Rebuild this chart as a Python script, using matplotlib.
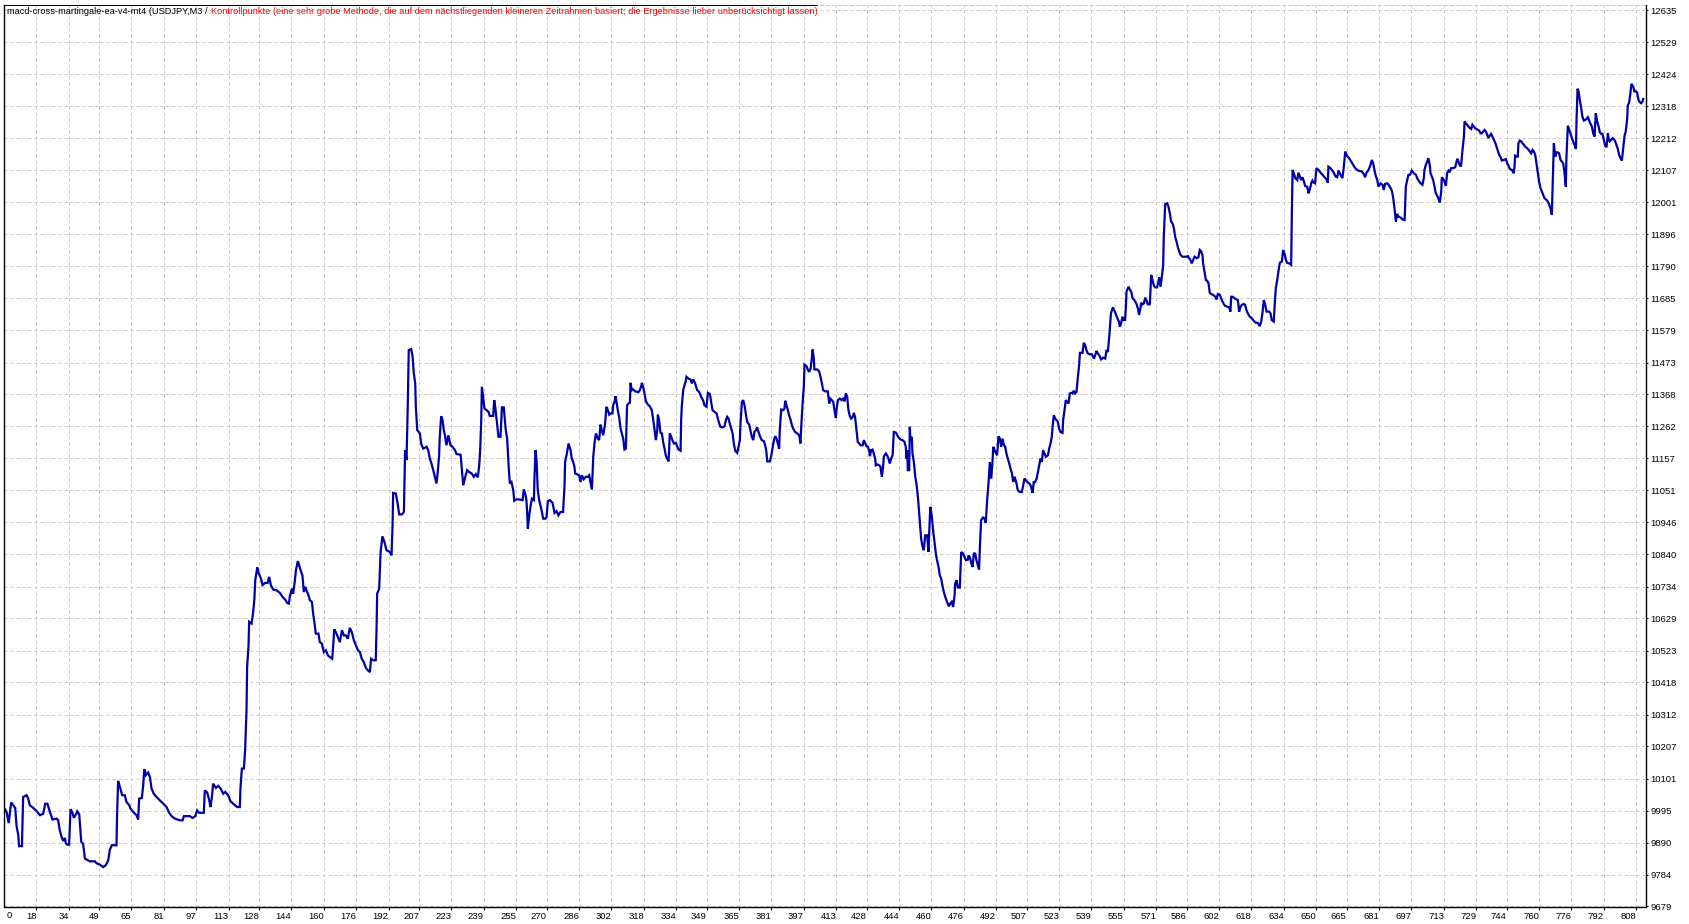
import matplotlib
matplotlib.use('Agg')
import matplotlib.pyplot as plt
import matplotlib.transforms as mtransforms
from matplotlib.lines import Line2D

# balance curve (bar number, balance)
bar_index = [
    2.3, 3.3, 4.4, 4.9, 5.6, 6.6, 7.6, 8.2, 9.1, 9.5, 10.9, 11.2, 11.5, 13.2, 14.0, 14.8,
    16.5, 18.1, 19.8, 21.4, 22.4, 23.5, 24.7, 26.0, 28.0, 28.8, 29.6, 30.6, 31.3, 32.1, 32.6,
    33.2, 34.2, 34.9, 35.9, 36.5, 37.4, 38.2, 39.2, 40.2, 41.1, 42.0, 42.8, 44.4, 46.9, 47.7,
    49.4, 51.0, 52.3, 53.5, 54.3, 55.3, 57.6, 57.9, 58.4, 59.3, 60.4, 61.7, 62.5, 63.9, 64.5,
    65.8, 67.5, 68.3, 68.8, 70.1, 70.8, 71.3, 72.1, 73.2, 74.1, 74.9, 76.0, 77.4, 79.0, 80.7,
    82.3, 83.6, 84.8, 86.4, 88.9, 90.2, 90.9, 93.8, 95.1, 96.5, 97.4, 98.4, 100.7, 101.2,
    102.4, 103.4, 104.0, 104.7, 105.3, 106.7, 107.8, 109.0, 110.3, 111.3, 112.7, 113.9,
    115.2, 117.2, 118.5, 118.8, 119.5, 120.5, 121.1, 121.8, 122.1, 122.8, 123.1, 124.3,
    125.1, 125.7, 126.1, 127.1, 127.7, 128.9, 129.7, 130.9, 132.2, 133.0, 133.8, 135.0,
    136.6, 138.3, 139.6, 140.9, 141.9, 142.7, 143.2,
    144.2, 144.8, 145.5, 146.2, 147.1, 147.8, 148.8, 149.4, 150.1, 150.8, 151.4, 152.4,
    153.1, 154.1, 154.7, 155.4, 156.0, 157.3, 158.0, 159.0, 160.0, 161.0, 162.0, 162.9,
    164.1, 164.6, 165.1, 165.9, 166.9, 167.9, 168.9, 169.9, 170.8, 171.8, 172.8, 173.8,
    174.8, 175.8, 176.8, 177.8, 178.7, 179.7, 180.7, 181.7, 182.7, 183.3, 184.3, 185.6,
    186.0, 186.3, 187.3, 188.0, 188.9, 189.9, 190.9, 192.6, 193.4, 193.9, 194.2, 195.5,
    196.4, 197.2, 198.5, 199.5, 199.8, 200.1, 200.8, 201.4, 201.9, 203.1, 203.8, 204.4,
    205.1, 205.4, 206.1, 207.4, 208.0, 209.0, 210.7, 211.5, 212.3, 213.1, 214.0, 214.8,
    215.6, 216.3, 216.9, 217.2, 217.9, 218.6, 219.2, 219.9, 220.5, 221.5, 222.5, 223.5,
    224.7, 225.5, 227.5, 228.1, 228.8, 229.8, 230.7, 231.7, 233.0, 234.0, 235.0, 236.0,
    236.7, 237.2, 237.7, 238.0, 238.6, 239.3, 240.3, 241.3, 241.9, 243.6, 244.1, 244.7,
    245.6, 246.2, 247.2, 247.9, 248.8, 249.8, 250.5, 251.2, 251.8, 252.6, 253.5, 254.0,
    255.1, 256.8, 258.1, 258.7, 259.4, 260.0, 260.4, 260.7, 261.4, 262.0, 262.7, 263.7,
    264.0, 264.5, 265.0, 265.6, 266.3, 267.3, 268.3, 269.3, 269.9, 270.6, 271.6, 272.9,
    273.9, 274.9, 275.8, 276.8, 278.1, 278.8, 279.1, 279.8, 280.8,
    281.8, 282.4, 283.1, 283.7, 284.1, 285.1, 286.0, 286.7, 287.4, 288.3, 289.3, 290.3,
    291.0, 291.6, 292.3, 292.6, 293.0, 293.6, 294.3, 295.3, 295.9, 296.6, 297.2, 297.9,
    298.6, 298.9, 299.5, 300.2, 300.9, 301.5, 302.5, 302.8, 303.5, 304.0, 304.5, 305.1,
    305.8, 306.5, 307.1, 307.8, 308.4, 309.1, 309.4, 309.7, 310.4, 311.1, 311.4, 312.0,
    312.7, 313.7, 314.7, 315.3, 316.0, 316.7, 317.0, 317.6, 318.3, 319.0, 319.6, 320.3,
    320.9, 321.9, 322.6, 323.2, 323.9, 324.6, 324.9, 325.5, 326.2, 326.9, 327.5, 328.2,
    328.8, 329.5, 330.2, 330.5, 330.8, 331.5, 332.1, 332.8, 333.8, 334.4, 335.1, 336.1,
    336.4, 336.7, 337.4, 338.1, 338.7, 339.0, 340.0, 341.0, 341.7, 342.3, 343.0, 343.6,
    344.3, 345.3, 346.3, 347.3, 347.9, 348.9, 349.6, 350.6, 351.2, 351.9, 352.9, 353.9,
    354.5, 355.2, 355.8, 356.8, 357.8, 358.5, 359.1, 359.8, 360.4, 361.1, 361.8, 362.4,
    363.1, 364.1, 364.7, 365.4, 365.7, 366.4, 367.0, 367.7, 368.3, 369.0, 370.0, 370.6,
    371.3, 372.0, 372.6, 373.3, 373.9, 374.6, 375.3, 376.2, 377.2, 377.9, 378.5, 378.9,
    380.2, 380.8, 381.5, 382.2, 382.8, 383.5, 384.1, 384.8, 385.1, 385.8, 386.8, 387.4,
    387.8, 388.4, 389.1, 389.7, 390.4, 391.1, 391.7, 392.7, 393.7, 394.7, 395.3, 395.7,
    396.3, 397.0, 397.3, 398.3, 398.9, 399.6, 400.3, 400.9, 401.3, 401.9, 402.2, 403.6,
    404.5, 405.2, 405.9, 406.5, 407.5, 408.8, 409.5, 410.1, 410.8, 411.5, 412.1, 412.8,
    413.1, 413.8, 414.7, 415.7, 416.4, 417.1, 417.7, 418.4, 419.0, 419.7,
    420.3, 421.0, 421.7, 422.3, 423.0, 423.6, 424.3, 425.0, 426.0, 426.6, 427.3, 427.9,
    428.6, 429.2, 429.6, 430.2, 430.9, 431.5, 432.2, 432.5, 433.2, 434.2, 434.8, 435.5,
    436.1, 436.5, 437.5, 438.1, 438.8, 439.4, 440.1, 440.8, 441.1, 441.4, 442.4, 443.1,
    443.7, 444.7, 445.7, 446.7, 447.3, 447.7, 448.0, 448.3, 449.0, 449.3, 449.6, 450.3,
    450.6, 451.3, 452.0, 452.6, 453.3, 453.8, 454.3, 454.9, 455.6, 456.2, 456.9, 457.9,
    458.5, 459.2, 459.5, 460.2, 460.8, 461.5, 462.2, 462.8, 463.5, 464.1, 464.8, 465.4,
    466.1, 466.8, 467.4, 468.1, 468.7, 469.4, 470.0, 470.7, 471.4, 471.7, 472.4, 473.0,
    474.0, 474.3, 474.7, 475.6, 476.3, 477.0, 478.0, 478.3, 479.0, 479.6, 480.3, 480.9,
    481.6, 482.2, 482.9, 483.5, 483.9, 484.5, 485.5, 486.2, 486.8, 487.5, 488.2, 488.8,
    489.5, 490.1, 490.5, 491.1, 491.8, 492.4, 493.1, 493.8, 494.4, 495.1, 495.7, 496.4,
    497.0, 497.7, 498.4, 499.0, 499.7, 500.3, 501.0, 501.3, 502.0, 502.6, 503.6, 504.6,
    505.3, 505.9, 506.6, 507.2, 507.9, 508.6, 509.2, 509.9, 510.5, 511.2, 511.9, 512.5,
    513.2, 513.8, 514.5, 515.1, 515.8, 516.5, 517.5, 518.1, 518.8, 519.4, 519.8, 520.4,
    521.1, 521.7, 522.4, 523.0, 523.7, 524.7, 525.0, 525.7, 526.3, 527.0, 527.7, 528.3,
    529.0, 529.6, 530.3, 530.9, 531.6, 532.3, 532.9, 533.3, 534.6, 535.2, 535.9, 536.5,
    537.2, 538.2, 539.2, 540.2, 540.8, 541.5, 542.1, 542.8, 543.8, 544.8, 545.8, 546.4,
    547.1, 547.9, 548.6, 549.6, 550.6, 551.6, 552.6,
    553.0, 553.7, 554.3, 555.0, 555.6, 556.0, 556.3, 557.3, 557.9, 558.6, 559.3, 559.9,
    560.6, 561.2, 561.9, 562.5, 563.2, 563.5, 564.2, 564.9, 565.5, 566.2, 566.8, 567.8,
    568.1, 568.5, 569.1, 569.8, 570.4, 571.4, 572.1, 572.4, 573.1, 573.7, 574.4, 574.7,
    575.4, 576.4, 577.0, 577.7, 578.3, 579.0, 579.7, 580.3, 581.0, 581.6, 582.3, 583.0,
    583.9, 584.9, 585.9, 586.6, 587.2, 587.9, 588.5, 589.2, 589.9, 590.9, 591.8, 592.5,
    593.2, 593.8, 594.1, 594.8, 595.5, 596.1, 596.8, 597.4, 598.1, 599.1, 600.1, 600.7,
    601.4, 602.4, 603.0, 603.7, 604.3, 605.0, 606.0, 607.0, 607.6, 608.0, 608.6, 609.6,
    610.6, 611.3, 611.9, 612.6, 613.2, 614.2, 614.9, 615.5, 616.2, 617.2, 618.2, 618.8,
    620.1, 621.1, 622.1, 622.8, 623.4, 624.1, 624.8, 625.4, 626.7, 627.4, 628.0, 629.0,
    629.4, 630.0, 630.7, 631.3, 632.0, 633.0, 633.6, 634.3, 635.0, 635.6, 636.6, 637.6,
    637.9, 638.3, 638.9, 639.6, 640.6, 641.2, 641.9, 642.5, 643.2, 643.9, 644.5, 645.5,
    646.2, 646.8, 647.5, 648.1, 648.8, 649.4, 650.1, 651.1, 652.1, 653.1, 654.1, 655.0,
    655.7, 656.0, 657.0, 658.3, 659.6, 660.3, 661.0, 662.0, 662.9, 663.6, 664.3, 665.2,
    666.2, 667.2, 668.2, 669.2, 670.2, 671.2, 672.5, 673.5, 674.1, 674.8, 675.8, 676.8,
    677.4, 678.1, 678.7, 679.4, 680.1, 680.7, 681.7, 682.7, 683.3, 684.0, 685.0, 685.7,
    686.3, 687.3, 688.0, 688.6, 689.3, 689.9, 690.6, 691.6, 692.6, 693.6, 693.9, 694.2,
    694.9, 695.5, 696.2,
    697.2, 698.2, 699.2, 699.8, 700.5, 701.5, 702.4, 703.1, 703.4, 704.1, 704.8, 705.3,
    706.1, 706.4, 707.1, 707.7, 708.4, 709.0, 709.7, 710.4, 711.0, 711.7, 712.0, 712.7,
    713.3, 714.0, 714.6, 715.3, 715.9, 716.6, 717.6, 718.6, 719.6, 720.2, 720.9, 721.5,
    722.2, 722.9, 723.2, 723.8, 724.5, 725.2, 725.8, 726.5, 727.1, 727.8, 728.4, 729.1,
    729.8, 730.4, 731.1, 731.7, 732.4, 733.1, 733.7, 734.4, 735.0, 735.7, 736.3, 737.0,
    737.7, 738.3, 739.0, 739.6, 740.3, 741.0, 741.6, 742.6, 743.6, 744.3, 744.9, 745.6,
    746.6, 747.5, 747.9, 748.2, 748.9, 749.5, 749.8, 750.5, 751.2, 751.8, 752.5, 753.1,
    754.1, 755.1, 756.1, 756.8, 757.4, 758.1, 758.7, 759.4, 760.0, 760.7, 761.4, 762.0,
    762.7, 763.7, 764.3, 765.0, 765.6, 766.3, 766.6, 767.0, 767.3, 768.0, 768.6, 769.3,
    769.9, 770.6, 771.2, 771.9, 772.6, 772.9, 773.2, 773.5, 773.9, 774.2, 774.9, 775.5,
    776.2, 776.8, 777.5, 778.2, 778.5, 779.0, 779.5, 780.1, 780.8, 781.4, 782.1, 782.8,
    783.4, 784.1, 784.7, 785.4, 786.1, 786.7, 787.4, 788.0, 788.7, 789.4, 790.0, 790.7,
    791.3, 792.0, 792.6, 793.3, 794.0, 794.3, 794.9, 795.6, 796.3, 796.9, 797.6, 798.2,
    798.9, 799.5, 800.2, 800.9, 801.5, 802.2, 802.8, 803.5, 803.8, 804.5, 805.1, 805.6,
    806.5, 807.1, 807.8, 808.4, 809.1, 809.8, 810.4, 811.1, 811.4,
]
balance = [
    10002, 9991, 9954, 9985, 10022, 10013, 10004, 9947, 9914, 9878, 9878, 9954, 10040, 10046, 10035, 10013,
    10004, 9994, 9980, 9985, 10018, 10018, 9991, 9966, 9969, 9963, 9930, 9906, 9895, 9905, 9888,
    9883, 9883, 10000, 9988, 9972, 9980, 9993, 9983, 9892, 9886, 9837, 9834, 9828, 9828, 9822,
    9817, 9809, 9815, 9831, 9866, 9881, 9881, 9985, 10093, 10073, 10046, 10046, 10024, 10013, 10002,
    9991, 9980, 9966, 10035, 10037, 10079, 10132, 10112, 10121, 10106, 10068, 10051, 10040, 10029, 10018,
    10007, 9988, 9977, 9969, 9963, 9963, 9977, 9977, 9971, 9977, 9996, 9988, 9988, 10062,
    10055, 10029, 10007, 10040, 10084, 10070, 10077, 10068, 10051, 10057, 10046, 10026,
    10018, 10007, 10007, 10068, 10134, 10134, 10194, 10326, 10469, 10541, 10618, 10612,
    10651, 10695, 10755, 10797, 10780, 10761, 10739, 10746, 10746, 10766, 10739, 10724,
    10722, 10713, 10700, 10691, 10680, 10678, 10702,
    10727, 10711, 10744, 10788, 10818, 10804, 10782, 10771, 10716, 10733, 10722, 10705,
    10689, 10683, 10645, 10612, 10579, 10579, 10551, 10546, 10518, 10524, 10507, 10502,
    10496, 10540, 10593, 10584, 10568, 10551, 10590, 10573, 10573, 10562, 10598, 10584,
    10557, 10540, 10524, 10518, 10496, 10485, 10466, 10458, 10452, 10496, 10491, 10491,
    10595, 10711, 10727, 10848, 10900, 10881, 10854, 10848, 10837, 10936, 11043, 11041,
    11008, 10972, 10972, 10980, 11077, 11184, 11151, 11327, 11514, 11517, 11492, 11437,
    11404, 11327, 11250, 11239, 11206, 11189, 11195, 11184, 11156, 11140, 11118, 11096,
    11074, 11118, 11167, 11228, 11296, 11283, 11250, 11228, 11200, 11233, 11200, 11195,
    11184, 11171, 11169, 11123, 11068, 11096, 11118, 11112, 11107, 11096, 11105, 11094,
    11134, 11189, 11285, 11393, 11360, 11321, 11316, 11310, 11297, 11297, 11349, 11321,
    11266, 11228, 11228, 11325, 11325, 11250, 11222, 11134, 11074, 11079, 11052, 11017,
    11022, 11021, 11019, 11054, 11041, 11019, 10975, 10925, 10969, 10997, 11024, 11019,
    11098, 11184, 11151, 11052, 11019, 10991, 10958, 10958, 10962, 11016, 11019, 11010,
    10977, 10983, 10969, 10980, 10980, 11066, 11145, 11167, 11206,
    11184, 11156, 11145, 11129, 11107, 11104, 11101, 11079, 11101, 11088, 11096, 11096,
    11101, 11079, 11054, 11096, 11162, 11206, 11239, 11222, 11217, 11268, 11250, 11233,
    11261, 11277, 11327, 11316, 11301, 11305, 11305, 11332, 11343, 11362, 11343, 11316,
    11292, 11255, 11239, 11222, 11186, 11189, 11259, 11332, 11338, 11340, 11406, 11382,
    11384, 11378, 11376, 11375, 11382, 11395, 11406, 11393, 11371, 11345, 11338, 11332,
    11329, 11316, 11285, 11255, 11217, 11250, 11301, 11283, 11241, 11239, 11211, 11189,
    11167, 11156, 11147, 11195, 11239, 11228, 11217, 11206, 11208, 11197, 11186, 11182,
    11283, 11327, 11382, 11398, 11413, 11426, 11420, 11417, 11404, 11417, 11409, 11398,
    11382, 11376, 11360, 11347, 11332, 11327, 11373, 11369, 11343, 11316, 11310, 11305,
    11288, 11272, 11261, 11259, 11263, 11283, 11294, 11288, 11272, 11255, 11239, 11206,
    11182, 11175, 11195, 11217, 11272, 11343, 11349, 11332, 11305, 11277, 11268, 11250,
    11228, 11217, 11244, 11250, 11259, 11244, 11230, 11217, 11214, 11200, 11178, 11147,
    11147, 11162, 11189, 11217, 11230, 11222, 11206, 11189, 11250, 11318, 11316, 11321,
    11347, 11332, 11316, 11299, 11285, 11266, 11255, 11244, 11239, 11233, 11206, 11261,
    11332, 11398, 11466, 11461, 11450, 11442, 11453, 11486, 11516, 11486, 11450, 11450,
    11444, 11426, 11404, 11382, 11378, 11378, 11338, 11354, 11349, 11343, 11316, 11290,
    11316, 11349, 11354, 11349, 11354, 11345, 11371, 11360, 11316, 11296,
    11288, 11292, 11307, 11292, 11250, 11211, 11206, 11200, 11200, 11217, 11206, 11197,
    11195, 11184, 11164, 11184, 11186, 11173, 11156, 11134, 11137, 11134, 11129, 11096,
    11129, 11164, 11173, 11167, 11156, 11140, 11156, 11167, 11206, 11244, 11242, 11233,
    11226, 11219, 11217, 11211, 11195, 11156, 11184, 11118, 11118, 11261, 11217, 11228,
    11173, 11145, 11096, 11072, 11030, 10986, 10942, 10892, 10865, 10854, 10903, 10903,
    10848, 10964, 10997, 10964, 10920, 10881, 10841, 10819, 10799, 10771, 10760, 10738,
    10716, 10700, 10689, 10676, 10669, 10680, 10684, 10667, 10705, 10744, 10755, 10731,
    10731, 10786, 10848, 10843, 10832, 10821, 10823, 10837, 10830, 10812, 10799, 10843,
    10843, 10821, 10804, 10790, 10865, 10953, 10962, 10958, 10944, 11019, 11079, 11145,
    11090, 11142, 11195, 11184, 11175, 11167, 11230, 11222, 11195, 11222, 11202, 11195,
    11173, 11156, 11140, 11123, 11109, 11079, 11096, 11090, 11074, 11052, 11046, 11046,
    11068, 11090, 11085, 11079, 11076, 11072, 11063, 11043, 11079, 11079, 11090, 11109,
    11134, 11156, 11145, 11184, 11173, 11162, 11167, 11189, 11206, 11228, 11261, 11299,
    11288, 11283, 11277, 11255, 11244, 11241, 11283, 11316, 11349, 11343, 11338, 11371,
    11373, 11371, 11380, 11371, 11376, 11426, 11464, 11505, 11505, 11538, 11530, 11514,
    11503, 11500, 11500, 11486, 11497, 11511, 11503, 11497, 11483, 11489, 11486, 11514,
    11508, 11569, 11635, 11655, 11640, 11622, 11607,
    11591, 11604, 11624, 11613, 11613, 11657, 11707, 11723, 11714, 11707, 11685, 11681,
    11674, 11666, 11652, 11630, 11652, 11670, 11665, 11668, 11687, 11677, 11665, 11665,
    11710, 11762, 11745, 11727, 11721, 11721, 11740, 11754, 11723, 11753, 11795, 11888,
    11995, 11998, 11987, 11965, 11938, 11932, 11916, 11888, 11872, 11855, 11839, 11828,
    11822, 11822, 11822, 11824, 11817, 11811, 11800, 11811, 11822, 11817, 11820, 11844,
    11839, 11828, 11800, 11773, 11745, 11743, 11734, 11703, 11699, 11696, 11690, 11681,
    11699, 11696, 11685, 11674, 11666, 11660, 11657, 11655, 11641, 11690, 11690, 11685,
    11681, 11679, 11641, 11657, 11663, 11666, 11663, 11646, 11635, 11624, 11619, 11613,
    11604, 11604, 11593, 11608, 11635, 11679, 11663, 11641, 11641, 11635, 11613, 11608,
    11657, 11718, 11745, 11773, 11802, 11806, 11844, 11833, 11811, 11802, 11800, 11795,
    11949, 12108, 12097, 12081, 12075, 12099, 12086, 12075, 12084, 12070, 12055, 12053,
    12031, 12044, 12064, 12073, 12066, 12064, 12114, 12108, 12099, 12092, 12084, 12077,
    12066, 12119, 12114, 12103, 12086, 12084, 12106, 12092, 12081, 12119, 12169, 12154,
    12147, 12136, 12125, 12114, 12108, 12105, 12103, 12094, 12084, 12099, 12108, 12125,
    12141, 12130, 12108, 12088, 12075, 12053, 12064, 12059, 12042, 12062, 12064, 12059,
    12053, 12040, 12015, 11982, 11938, 11963, 11954, 11951, 11945, 11943, 11993, 12053,
    12075, 12092, 12092,
    12106, 12097, 12092, 12081, 12073, 12064, 12059, 12081, 12108, 12125, 12136, 12147,
    12122, 12097, 12086, 12075, 12053, 12031, 12023, 12012, 12001, 12037, 12084, 12078,
    12070, 12056, 12097, 12106, 12103, 12114, 12114, 12117, 12145, 12136, 12122, 12122,
    12174, 12218, 12268, 12262, 12257, 12251, 12246, 12243, 12257, 12251, 12246, 12243,
    12240, 12238, 12229, 12229, 12235, 12240, 12235, 12224, 12213, 12221, 12227, 12218,
    12207, 12199, 12185, 12174, 12158, 12150, 12139, 12141, 12144, 12130, 12122, 12111,
    12108, 12097, 12122, 12155, 12152, 12152, 12196, 12205, 12202, 12196, 12191, 12185,
    12180, 12172, 12163, 12174, 12169, 12158, 12130, 12097, 12070, 12048, 12037, 12026,
    12015, 12009, 12004, 11993, 11982, 11960, 12031, 12119, 12196, 12152, 12166, 12166,
    12163, 12141, 12136, 12130, 12097, 12075, 12053, 12147, 12207, 12254, 12240, 12229,
    12213, 12202, 12191, 12177, 12273, 12376, 12367, 12339, 12312, 12284, 12271, 12273,
    12276, 12282, 12271, 12260, 12251, 12229, 12218, 12295, 12268, 12251, 12232, 12227,
    12227, 12207, 12188, 12183, 12229, 12213, 12202, 12207, 12213, 12210, 12202, 12191,
    12177, 12158, 12147, 12139, 12177, 12221, 12235, 12276, 12320, 12331, 12361, 12392,
    12383, 12367, 12367, 12364, 12339, 12331, 12328, 12334, 12342,
]

x_ticks = [18, 34, 49, 65, 81, 97, 113, 128, 144, 160, 176, 192, 207, 223, 239, 255, 270,
           286, 302, 318, 334, 349, 365, 381, 397, 413, 428, 444, 460, 476, 492, 507, 523,
           539, 555, 571, 586, 602, 618, 634, 650, 665, 681, 697, 713, 729, 744, 760, 776,
           792, 808]
y_ticks = [9679, 9784, 9890, 9995, 10101, 10207, 10312, 10418, 10523, 10629, 10734, 10840,
           10946, 11051, 11157, 11262, 11368, 11473, 11579, 11685, 11790, 11896, 12001, 12107,
           12212, 12318, 12424, 12529, 12635]

chart_name = 'macd-cross-martingale-ea-v4-mt4 (USDJPY,M3 /'
chart_note = ('Kontrollpunkte (eine sehr grobe Methode, die auf dem nächstliegenden kleineren '
              'Zeitrahmen basiert; die Ergebnisse lieber unberücksichtigt lassen)')

plt.rcParams['font.family'] = ['Liberation Sans', 'DejaVu Sans']

W, H = 1690, 924
fig = plt.figure(figsize=(W / 100, H / 100), dpi=100)
ax = fig.add_axes([4.3 / W, 17.5 / H, (1646 - 4.3) / W, (906.5 - 4.7) / H])

ax.plot(bar_index, balance, color='#0000aa', lw=1.6, solid_joinstyle='miter')

ax.set_xlim(2.2, 812.8)
ax.set_ylim(9679, 12653)

ax.set_xticks(x_ticks)
ax.set_xticklabels([str(v) for v in x_ticks], ha='right')
shift = mtransforms.ScaledTranslation(-2 / 100, 0, fig.dpi_scale_trans)
for lab in ax.get_xticklabels():
    lab.set_transform(lab.get_transform() + shift)
ax.set_yticks(y_ticks)
ax.set_yticklabels([str(v) for v in y_ticks])
ax.yaxis.tick_right()

ax.tick_params(axis='x', direction='out', length=2, width=0.75, labelsize=6.8, pad=2)
ax.tick_params(axis='y', direction='out', length=1.5, width=0.75, labelsize=6.8, pad=1.5)

ax.grid(True, color='#c8c8c8', lw=0.72, ls=(0, (3, 3)))
for side in ['left', 'bottom', 'right']:
    ax.spines[side].set_color('black')
    ax.spines[side].set_linewidth(1.0)
ax.spines['top'].set_color('#c8c8c8')
ax.spines['top'].set_linewidth(0.72)
ax.spines['top'].set_linestyle((0, (3, 3)))

ax.annotate('0', xy=(0, 0), xycoords='axes fraction', xytext=(2, -4),
            textcoords='offset pixels', ha='left', va='top', fontsize=6.8)

name_txt = fig.text(7 / W, 1 - 12 / H, chart_name, ha='left', va='center',
                    fontsize=6.65, color='black')
note_txt = ax.annotate(chart_note, xy=(1, 0.5), xycoords=name_txt, xytext=(3, 0),
                       textcoords='offset pixels', ha='left', va='center',
                       fontsize=6.65, color='#ff0000')

# black rule along the top edge above the title
fig.canvas.draw()
bb = note_txt.get_window_extent()
fig.add_artist(Line2D([4.3 / W, bb.x1 / W], [1 - 4.7 / H, 1 - 4.7 / H],
                      transform=fig.transFigure, color='black', lw=0.75))

fig.savefig('out.png', dpi=100)
